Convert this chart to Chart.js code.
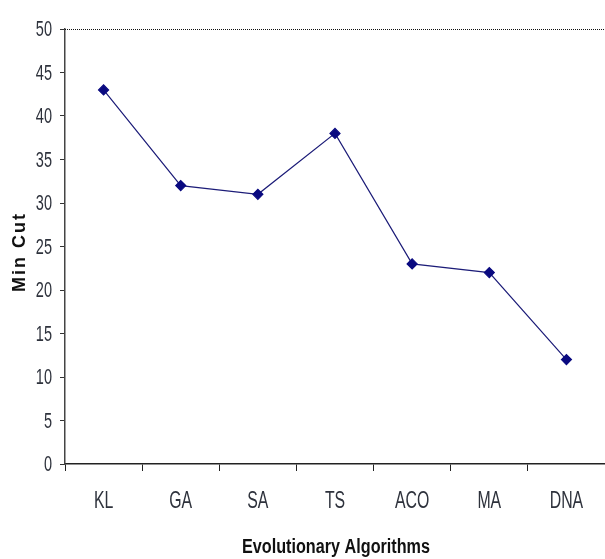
<!DOCTYPE html>
<html>
<head>
<meta charset="utf-8">
<script src="https://cdn.jsdelivr.net/npm/chart.js@4"></script>
<style>
    html, body { margin: 0; padding: 0; background: #fff; overflow: hidden; }
    #wrap { width: 605px; height: 559px; position: relative; }
    canvas { display: block; }
</style>
</head>
<body>
<div id="wrap"><canvas id="cutChart"></canvas></div>
<script>
// data
const algorithms = ["KL", "GA", "SA", "TS", "ACO", "MA", "DNA"];
const minCut = [43, 32, 31, 38, 23, 22, 12];
const yTicks = [0, 5, 10, 15, 20, 25, 30, 35, 40, 45, 50];

const xTitle = "Evolutionary Algorithms";
const yTitle = "Min Cut";

const FONT = "'Liberation Sans', Arial, sans-serif";
const LABEL_COLOR = "#2e323c";

// the original uses a narrow face, so squeeze text horizontally
function narrowText(ctx, text, x, y, squeeze, align) {
    ctx.save();
    ctx.translate(x, y);
    ctx.scale(squeeze, 1);
    ctx.textAlign = align;
    ctx.textBaseline = "middle";
    ctx.fillText(text, 0, 0);
    ctx.restore();
}

const textPlugin = {
    id: "narrowLabels",
    afterDraw(chart) {
        const { ctx, chartArea, scales } = chart;
        const x = scales.x, y = scales.y;

        // dotted line along the top (value 50)
        const top = Math.round(y.getPixelForValue(50)) + 0.5;
        ctx.save();
        ctx.strokeStyle = "#111";
        ctx.lineWidth = 1;
        ctx.setLineDash([1, 1]);
        ctx.beginPath();
        ctx.moveTo(chartArea.left, top);
        ctx.lineTo(chartArea.right, top);
        ctx.stroke();
        ctx.restore();

        ctx.save();
        ctx.fillStyle = LABEL_COLOR;

        // y tick labels
        ctx.font = "22px " + FONT;
        yTicks.forEach(v => {
            narrowText(ctx, String(v), chartArea.left - 13, y.getPixelForValue(v) + 1, 0.66, "right");
        });

        // x tick labels
        ctx.font = "24px " + FONT;
        algorithms.forEach((name, i) => {
            narrowText(ctx, name, x.getPixelForValue(i), chartArea.bottom + 37, 0.66, "center");
        });

        // x title
        ctx.fillStyle = "#111";
        ctx.font = "bold 20px " + FONT;
        const w = ctx.measureText(xTitle).width;
        narrowText(ctx, xTitle, (chartArea.left + chartArea.right) / 2 + 1, 547, 188 / w, "center");

        // y title, rotated with wide letter spacing
        ctx.font = "bold 18px " + FONT;
        ctx.translate(20, 252);
        ctx.rotate(-Math.PI / 2);
        ctx.letterSpacing = "2px";
        ctx.textAlign = "center";
        ctx.textBaseline = "middle";
        ctx.fillText(yTitle, 0, 0);
        ctx.restore();
    },
};

document.addEventListener("DOMContentLoaded", () => {
    const ctx = document.getElementById("cutChart").getContext("2d");

    new Chart(ctx, {
        type: "line",
        data: {
            labels: algorithms,
            datasets: [{
                label: yTitle,
                data: minCut,
                borderColor: "#1c1c78",
                borderWidth: 1.2,
                pointStyle: "rectRot",
                pointRadius: 5,
                pointBackgroundColor: "#0a0a80",
                pointBorderColor: "#0a0a80",
                tension: 0,
                fill: false,
            }],
        },
        options: {
            responsive: true,
            maintainAspectRatio: false,
            animation: false,
            layout: { autoPadding: false, padding: { top: 29, right: 0, left: 0, bottom: 0 } },
            plugins: {
                legend: { display: false },
                tooltip: { enabled: false },
            },
            scales: {
                x: {
                    offset: true,
                    grid: {
                        offset: true,
                        drawOnChartArea: false,
                        color: "#222",
                        tickLength: 7,
                    },
                    border: { color: "#222", width: 1.5 },
                    ticks: { display: false },
                    afterFit: scale => { scale.height = 95; },
                },
                y: {
                    min: 0,
                    max: 50,
                    afterBuildTicks: scale => { scale.ticks = yTicks.map(v => ({ value: v })); },
                    grid: {
                        color: "rgba(0,0,0,0)",
                        tickColor: "#333",
                        tickLength: 5,
                    },
                    border: { color: "#444", width: 1.5 },
                    ticks: { display: false },
                    afterFit: scale => { scale.width = 65; },
                },
            },
        },
        plugins: [textPlugin],
    });
});
</script>
</body>
</html>
